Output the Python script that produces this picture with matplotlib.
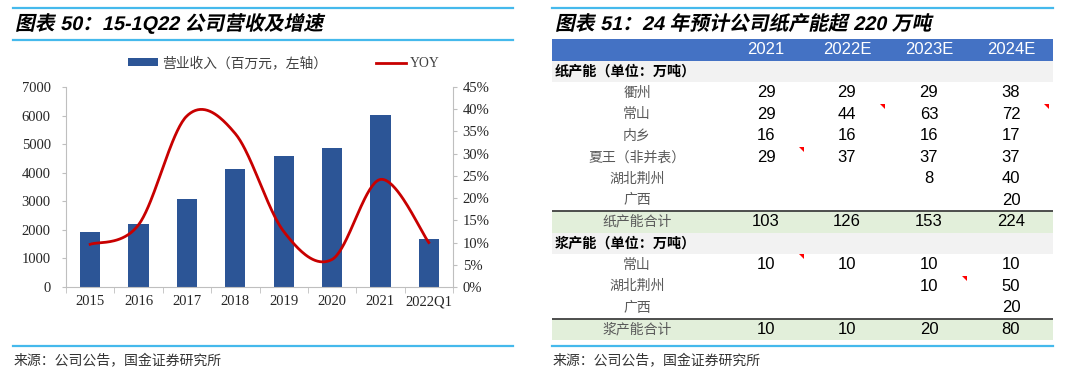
import numpy as np
import matplotlib
matplotlib.use("Agg")
import matplotlib.pyplot as plt
from matplotlib.patches import Rectangle, Polygon, PathPatch
from matplotlib.lines import Line2D
from matplotlib.textpath import TextPath
from matplotlib.font_manager import FontProperties
from matplotlib.transforms import Affine2D
from matplotlib.ticker import FuncFormatter

W, H = 1080, 379
BAR = "#2C5596"; RED = "#C80000"; RULE = "#45B9EC"; AXC = "#BFBFBF"; TXT = "#262626"
HEAD = "#4472C4"; SEC = "#F2F2F2"; TOT = "#E2EFDA"; NAME = "#595959"
CJK = ["Noto Sans CJK SC", "DejaVu Sans"]
SERIF = ["Liberation Serif", "Noto Sans CJK SC"]
SANS = ["Liberation Sans Narrow", "Liberation Sans", "Noto Sans CJK SC"]

# left chart: revenue (RMB mn) and YOY
periods = ["2015", "2016", "2017", "2018", "2019", "2020", "2021", "2022Q1"]
revenue = [1930, 2220, 3080, 4115, 4570, 4860, 6035, 1690]
yoy = [0.096, 0.14, 0.385, 0.345, 0.125, 0.062, 0.242, 0.100]

# right table: capacity (10k tonnes)
years = ["2021", "2022E", "2023E", "2024E"]
paper_sites = ["衢州", "常山", "内乡", "夏王（非并表）", "湖北荆州", "广西"]
paper_cap = [[29, 29, 29, 38], [29, 44, 63, 72], [16, 16, 16, 17],
             [29, 37, 37, 37], [None, None, 8, 40], [None, None, None, 20]]
paper_total = [103, 126, 153, 224]
pulp_sites = ["常山", "湖北荆州", "广西"]
pulp_cap = [[10, 10, 10, 10], [None, None, 10, 50], [None, None, None, 20]]
pulp_total = [10, 10, 20, 80]
# excel comment flags (row index, column index)
flags = [(3, 1), (3, 3), (5, 0), (10, 0), (11, 2)]

fig = plt.figure(figsize=(W / 100, H / 100), dpi=100)


def fx(x): return x / W
def fy(y): return 1 - y / H


def rule(x0, x1, y):
    fig.add_artist(Line2D([fx(x0), fx(x1)], [fy(y), fy(y)], color=RULE, lw=1.6))


def slanted(x, y, s, size):
    fp = FontProperties(family=["Liberation Sans", "Noto Sans CJK SC"], weight="bold")
    tp = TextPath((0, 0), s, size=size, prop=fp)
    tr = Affine2D().skew_deg(12, 0).translate(x, H - y).scale(1 / W, 1 / H) + fig.transFigure
    fig.add_artist(PathPatch(tp, transform=tr, color="black", lw=0))


def smooth(xs, ys, n=40):
    pts = np.column_stack([xs, ys]).astype(float)
    p = np.vstack([pts[0], pts, pts[-1]])
    t = np.linspace(0, 1, n, endpoint=False)[:, None]
    out = []
    for i in range(len(pts) - 1):
        p0, p1, p2, p3 = p[i], p[i + 1], p[i + 2], p[i + 3]
        c1 = p1 + (p2 - p0) / 6
        c2 = p2 - (p3 - p1) / 6
        out.append((1 - t) ** 3 * p1 + 3 * (1 - t) ** 2 * t * c1 + 3 * (1 - t) * t ** 2 * c2 + t ** 3 * p2)
    out.append(pts[-1:])
    return np.vstack(out)


# ---- frame rules and titles
rule(13, 513, 8); rule(13, 513, 40); rule(13, 513, 346)
rule(552, 1053, 8); rule(552, 1053, 346)
slanted(15, 30, "图表 50：15-1Q22 公司营收及增速", 19.8)
slanted(555, 30, "图表 51：24 年预计公司纸产能超 220 万吨", 19.8)

# ---- left panel
ax = fig.add_axes([fx(66), fy(287), fx(453 - 66), (287 - 87) / H])
x = np.arange(len(periods))
ax.bar(x, revenue, width=0.42, color=BAR, zorder=2, label="营业收入（百万元，左轴）")
ax.set_xlim(-0.5, len(periods) - 0.5); ax.set_ylim(0, 7000)
ax.set_yticks(range(0, 7001, 1000))
ax.set_xticks(x); ax.set_xticklabels(periods)
ax.set_xticks(np.arange(-0.5, len(periods), 1), minor=True)
ax.tick_params(axis="x", which="major", length=0, pad=6)
ax.tick_params(axis="x", which="minor", length=4, color=AXC)
ax.tick_params(axis="y", length=3, color=AXC, pad=8)
for lab in ax.get_xticklabels() + ax.get_yticklabels():
    lab.set_family(SERIF); lab.set_fontsize(10.5); lab.set_color(TXT)
for s in ("top", "right"): ax.spines[s].set_visible(False)
for s in ("left", "bottom"): ax.spines[s].set_color(AXC)

ax2 = ax.twinx()
curve = smooth(x, yoy)
ax2.plot(curve[:, 0], curve[:, 1], color=RED, lw=2, label="YOY")
ax2.set_ylim(0, 0.45)
ax2.set_yticks(np.arange(0, 0.451, 0.05))
ax2.yaxis.set_major_formatter(FuncFormatter(lambda v, _: f"{v * 100:.0f}%"))
ax2.tick_params(axis="y", length=3, color=AXC, pad=4)
for lab in ax2.get_yticklabels():
    lab.set_family(SERIF); lab.set_fontsize(10.5); lab.set_color(TXT)
for s in ("top", "left", "bottom"): ax2.spines[s].set_visible(False)
ax2.spines["right"].set_color(AXC)

h1, l1 = ax.get_legend_handles_labels(); h2, l2 = ax2.get_legend_handles_labels()
fig.legend(h1 + h2, l1 + l2, loc="center left", bbox_to_anchor=(fx(128), fy(63)),
           ncol=2, frameon=False, borderpad=0, borderaxespad=0, handlelength=2.2,
           handleheight=0.45, handletextpad=0.25, columnspacing=3.6,
           prop=FontProperties(family=SERIF, size=9.9), labelcolor="#404040")

fig.text(fx(14), fy(361), "来源：公司公告，国金证券研究所", family=CJK, fontsize=10, va="center", color="#333333")
fig.text(fx(553), fy(361), "来源：公司公告，国金证券研究所", family=CJK, fontsize=10, va="center", color="#333333")

# ---- right panel: table
tax = fig.add_axes([fx(552), fy(340), fx(1053 - 552), (340 - 39) / H])
TW = 501
tax.set_xlim(0, TW); tax.set_ylim(14, 0); tax.axis("off")
name_x = 85
col_x = [214, 295, 377, 459]

rows = [("head", None, years), ("sec", "纸产能（单位：万吨）", None)]
rows += [("item", n, v) for n, v in zip(paper_sites, paper_cap)]
rows += [("total", "纸产能合计", paper_total), ("sec", "浆产能（单位：万吨）", None)]
rows += [("item", n, v) for n, v in zip(pulp_sites, pulp_cap)]
rows += [("total", "浆产能合计", pulp_total)]

for r, (kind, name, vals) in enumerate(rows):
    yc = r + 0.5
    if kind == "head":
        tax.add_patch(Rectangle((0, r), TW, 1, color=HEAD, lw=0))
        for cx, v in zip(col_x, vals):
            tax.text(cx, yc, v, ha="center", va="center", color="white", fontsize=12, family=SANS)
        continue
    if kind == "sec":
        tax.add_patch(Rectangle((0, r), TW, 1, color=SEC, lw=0))
        tax.text(3, yc, name, ha="left", va="center", fontsize=10.2, family=CJK, weight="bold", color="black")
        continue
    if kind == "total":
        tax.add_patch(Rectangle((0, r), TW, 1, color=TOT, lw=0))
        tax.plot([0, TW], [r, r], color="#404040", lw=1.3)
    tax.text(name_x, yc, name, ha="center", va="center", fontsize=10, family=CJK, color=NAME)
    for cx, v in zip(col_x, vals):
        if v is not None:
            tax.text(cx, yc, str(v), ha="center", va="center", fontsize=12, family=SANS, color="black")

rh = (340 - 39) / 14
for r, c in flags:
    xr = col_x[c] + 38
    tax.add_patch(Polygon([(xr - 5, r), (xr, r), (xr, r + 5 / rh)], closed=True, color="red", lw=0))

fig.savefig("out.png", dpi=100)
